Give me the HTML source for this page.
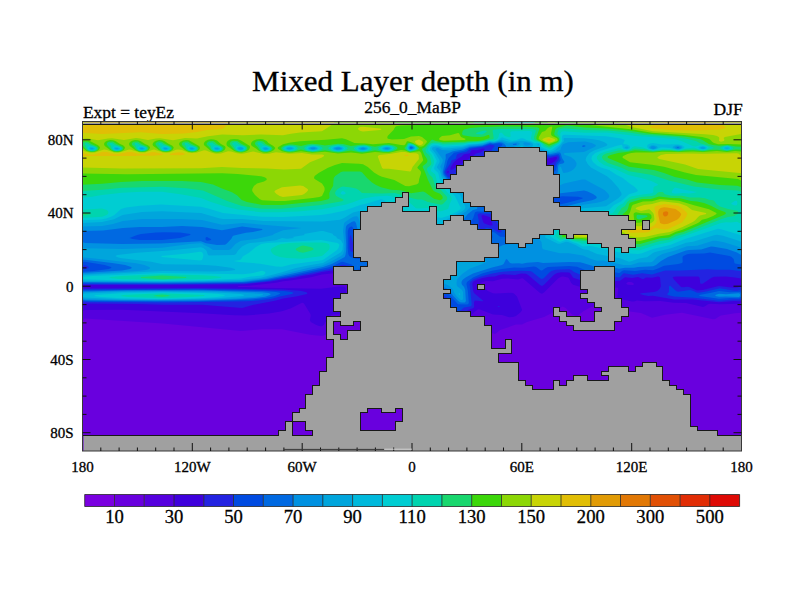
<!DOCTYPE html><html><head><meta charset="utf-8"><title>Mixed Layer depth</title><style>html,body{margin:0;padding:0;background:#fff}body{width:800px;height:600px;position:relative;overflow:hidden}</style></head><body><svg width="800" height="600" viewBox="0 0 800 600" style="position:absolute;left:0;top:0">
<text transform="translate(413,91) scale(1,0.95)" text-anchor="middle" style="font-family:'Liberation Serif',serif;fill:#000;stroke:#000;stroke-width:0.3px;font-size:31px">Mixed Layer depth (in m)</text>
<text x="83" y="117.8" style="font-family:'Liberation Serif',serif;fill:#000;stroke:#000;stroke-width:0.3px;font-size:17.4px">Expt = teyEz</text>
<text x="412.6" y="112.5" text-anchor="middle" style="font-family:'Liberation Serif',serif;fill:#000;stroke:#000;stroke-width:0.3px;font-size:17.4px">256_0_MaBP</text>
<text x="742.7" y="114.8" text-anchor="end" style="font-family:'Liberation Serif',serif;fill:#000;stroke:#000;stroke-width:0.3px;font-size:17.5px">DJF</text>
<defs><clipPath id="mc"><rect x="82.5" y="121.5" width="659.0" height="329.5"/></clipPath></defs>
<g clip-path="url(#mc)">
<g filter="none">
<rect x="80" y="119" width="665" height="335" fill="#6900de"/>
<path fill="#5500de" d="M80,119 744,119 744,310.9 741,312.7 735,313.2 721,315.6 719,316.4 715.3,319 713,319.3 682,312.7 665,314.8 652,317.7 641,312.9 617,309.8 612,309.7 603,310.7 599,308.4 593,306.8 591,307.1 583.7,311 578,315.5 576,315.8 572,314.6 565.7,308 563,306.7 562,306.8 558,309.9 544,317 527,322 522,324.5 516,324.6 500,330 496,333.6 495,333.9 491,332.8 489.7,333 479,339.3 460,339.6 457,340 453,342.7 445,349.8 443,350.8 440,348.8 411,348.6 408,348 373.3,320 370,318.7 358,316.2 356.4,314 354,307.8 353,307.7 352.3,319 351,320.8 345,323.5 338,321.4 335,321.8 329.1,329 328.4,331 328.5,333 325.2,335 322,335.9 310,334.7 282,329.2 262,329.3 241,330.9 163,323.6 85,318.6 84,319 82,323 82.8,327 82.3,330 81,331.7 80,331.4Z"/>
<path fill="#3e00dc" d="M80,119 744,119 744,302.2 740,303.7 720,304.2 710,303.8 708,304.3 705,306.3 703,306.9 686,303.1 674,302.8 660.4,301 644,301.2 637,300.4 634,301.4 632,301.4 620,299.1 617.8,298 617.4,296 618.2,289 618,288 617,287.4 612.2,288 598,291.6 595,291.7 587,288.7 573,284.8 571.2,283 569,278.6 568,277.6 563,276.4 561,276.7 558,278.5 544,292.6 542,293.8 540,292.9 523,278.6 522,278.3 518,279.5 508,278.6 502,278.7 493,281.3 485.9,281 480.3,283 480.3,284 487.8,291 493,293.2 496,293.6 511,292.8 513,293.1 514.5,294 517,296.5 522.2,310 520.9,312 516,316.1 513,316.9 509,317.2 502,315.1 493,314.6 480,309.4 478,309.3 473.4,313 451,334.2 448,336.4 447,336.2 446.2,335 444,329.5 443,328.1 441,327.5 426,327.5 423.6,327 404.9,312 401.7,310 360,302.3 359,301.3 358,299 353.1,282 351,278.6 349.9,273 349,271.5 348,271.1 344,271 334,273.2 322,274.5 311,277.3 292,280.3 283,281.2 276,282.7 249,285.7 238.6,286 237.5,287 246,286.9 262,287.8 321,288.8 339,286.6 343,286.4 345,287 345.6,288 345.9,290 345.4,304 346.1,311 345.6,313 343,314.3 334,314.4 331.3,315 326.7,320 324,324.8 322,326.3 320,326.3 316.2,325 310.8,322 309.8,320 310.7,316 310.4,314 304.3,304 303.2,303 302,302.7 291,308.3 282,311.3 269,313.5 246,315.5 234,315.3 201,313.3 122,309.7 85,310.1 81,311.4 80,311.3ZM626.3,284 628,284.7 633,285 634.2,284 632,282.2 630,281.9 628,282.1 626.6,283Z"/>
<path fill="#2323e1" d="M80,119 744,119 744,278.1 741,278.5 735,277.4 726,276.5 714,276.8 711.1,278 703,283.6 701,284.1 700.2,283 699.6,278 699.1,277 698,276.5 676,276.4 672.9,277 673,278 674.4,280 681,286.9 683,287.3 687,286.8 689,287 697,290.5 702.6,290 719,286 735,287.9 738,287.5 740,286.5 741,286.6 743,288 744,287.9 744,300.2 742,300.1 740,301.2 734,301 719,302.3 693,299.5 674,299.6 653,295.8 648,295.9 643.3,295 640,294 641,293.3 654,292 657.2,291 660,288.4 660.9,286 660.1,278 659.6,277 658,276.5 652,277.8 646,277.4 643,279.2 638,277.1 632,277.9 625,277.2 620,280.8 616,281.1 599,285.4 596,285.7 592,284.6 581,280.2 574,278.1 573,277.6 570,273.1 569,272.5 561,272.3 557.1,273 554,274.8 544,284.7 542,285.9 540,285.1 528.1,275 526,273.8 521,273.4 515,275 503,274.2 499,275 495,276.6 489,276.7 482.7,278 476.1,280 473,281.8 472.3,284 473,290.3 474,293.1 483.5,301 482,301.3 475,300.5 474,302 474.1,307 473.5,308 468.2,310 454,323.4 452,324.8 451,324.9 449.7,323 446,313 445,311.4 444,310.8 436,310.2 426,302.8 418.1,301 362,291.3 361,290.7 360,289.1 356.1,277 352.8,276 350.8,269 349,267.8 343,267.1 332,270.4 322,272 312,274.5 302,276 295,277.7 282,279.4 271,281.6 244,284.3 168,285 83,284.9 82,286 81.9,287 82.4,288 84,288.6 198,288.1 282,289.5 300,290.8 305.8,292 307.4,293 306.9,294 296,296.6 283,298.5 276,300.6 252.5,305 242,307.9 202,304.8 163,304.8 136.9,304 84,303.6 82.1,304 81,305.3 80,304.8ZM484.9,149 483,148.4 477,150.2 472,150 470.8,151 470,153.2 464,154.2 461.1,157 459,158 454,162.1 451,166.4 450.2,169 451,170 453,169.3 473.1,156 476,153.4 481,152.2 484,150.3ZM557,157.5 556.5,157 555,156.9 550,158.3 547,158.4 545.5,159 535.4,171 531.1,177 532,177.2 534,176.1 550,163.9 554,162.1 556.8,159ZM448,170.8 446.9,172 448,173.4 448.9,172 448.7,171ZM481.4,216 483,221.6 484,223.2 490,225.5 492,225.6 492.5,225 491.4,220 489.7,217 484,215.2 482,215.3ZM497.7,307 498,306.1 500.5,307Z"/>
<path fill="#004be1" d="M80,119 744,119 744,271.5 730,269.7 717,269.8 708,269.3 680,270.5 665,270.6 652,274.4 642,273.3 633,274.7 624,273.3 623,273.8 620,277.1 619,277.4 613,276.6 597,280.4 594.4,280 588.6,278 574,271.9 571,269.7 569,269.3 556,269.8 552,270.7 549.9,272 544,277.9 542,279.1 540,278.2 532,271.7 530,270.9 521,270.8 505,271.5 499,272.2 491,273.7 481,276.4 474,279.1 471.2,281 470.3,282 469.6,284 471.7,304 471.3,306 470,306.6 464,307.4 455,314.9 454,314.8 453,313.3 447.8,299 446.3,297 445,296.2 433,293.5 364,281.6 362,280.5 359,272.9 358,272.5 355,273.8 354,273.6 352.5,269 351,267 349,265.9 343,264.8 341,265.1 336.5,267 330,269 291,277 282,278.2 268,280.9 247,283.2 197,284.1 84,283.9 80,284.3ZM457.7,154 456.8,155 456,158.2 455,159.2 452,159.9 451.1,161 450.6,163 445.4,171 445.2,172 445.8,174 448,176.5 450,177.3 452,175.2 472,162.6 474,162.2 475,163.2 488,202.2 490,207.2 491,208.2 491.6,205 491.6,151 492.3,149 494.7,146 493,145 490,144.8 484,146.7 472,148.4 470.1,149 466.3,152 460.5,153ZM558.4,156 557,155.3 550,156.8 544,155.9 540.9,157 500,206 499,208.3 500,208.1 507,203.1 551,168.6 554,166.8 555,165.7 556,163 558.6,160 559,158ZM477.9,214 477.6,215 478.9,221 478.4,225 479.6,228 481,229.6 483,229.9 486,228.1 488,227.9 493,229 498,232.2 500,232.5 501.6,232 501.3,230 495,219.5 493.1,215 492,214 480,213.3ZM350,235.5 349.6,239 349.7,249 350.5,251 352,251.9 353,251.4 353.5,250 353.2,244 351,235.4ZM82.9,267 83,268.3 84,269.3 88.7,268 88.8,267 86,265.6 84,265.3ZM667.3,294 668.9,292 669,286.4 670,285.4 676.1,291 678,291.8 690,290 693,290.8 697,292.7 699,292.8 706,291.6 720,288.2 733,290.6 737,290.8 740,290.1 742,291.6 744,291.2 744,298.7 742,298 740,299.4 733,299.5 719,300.7 694,297.7 674,296.6 667.6,295ZM80,301.4 80,289.3 81,289.1 84,289.6 197,289 245,289.7 284,290.9 291.8,292 293.6,293 292,294.1 281,296.3 271,299.1 258,300.6 247,301.3 167,302.5 90,302.1Z"/>
<path fill="#0069e1" d="M80,119 744,119 744,265 735,263.5 734.5,263 733.7,259 731.6,257 729.6,256 710,252.4 704,253.5 690,253.8 687,254.3 683.3,256 682.5,257 682.7,262 682,263 678.3,264 664,265.8 658,268.6 653,270.3 645,269.8 635,271 624,270.2 622,270.9 620,272.7 619,273 609,271.3 598,273.8 596,273.8 588,271.3 577,266.7 569,266 548,267.1 545.6,268 542,270.6 541,270.4 536.2,267 534,266.6 523,267.7 514,267.6 502,268.9 492,270.7 482,273.6 473,277.5 467,282 466.4,284 467.9,291 468.8,303 468,304.3 466,304.6 458,304.3 448,293.2 445,291.5 396.6,276 385,273 365,269.3 362,267.3 356,270.7 355,270.2 352,264.8 343,261.8 341,262.1 334,265.6 328,267.6 292,275.3 267,280 244,282.6 168,283.4 80,283 80,270.9 81,270.6 83,271.7 93.8,271 108.7,269 111.4,268 111,267 104.7,265 85,261.7 83,262 81,265 80,264.5ZM444.2,171 444.1,173 445,175 450,180.6 451,181.2 452,181.3 468,170.8 470,170.1 471.2,171 484.2,210 484.1,211 483,211.4 477,211.6 475,212.3 473.2,218 470.7,222 470,224 470.5,226 476,237 477.3,239 479,240.1 483,240.2 492,238.6 492.6,237 491.7,233 492,232.3 493,232 495,232.8 500,236.7 509,237 515,236.5 516,236 516.1,235 513.1,229 513,228 513.6,227 535.7,211 544.4,208 566.4,203 581.3,199 583.1,198 578,196.8 562,196.2 525.1,204 517,204.9 515,204.7 514.4,204 516,202 556,170.2 557,164.7 560,161.6 560.6,160 559.6,155 558.5,154 550,155.6 542,153.8 538.1,154 536.3,155 504,193.3 500,197.1 499,196.2 498.8,150 499.1,148 502.4,145 502.1,144 501,143.5 499,143.3 493,143.9 490,143.6 482,146.2 470,147.7 464,150.8 454,152.7 448.7,158 447.4,161 446.3,166ZM351,226.6 348.8,228 347.8,231 347.7,248 348.3,254 349.2,256 351,257.3 356,258.7 359,258.9 360,258.2 360.1,257 358.1,247 353.2,228 352,226.6ZM129.5,238 132.6,239 140,240 162,239.9 179.9,238 190.4,235 190.3,234 180,232.4 164,232.2 156,232.6 141,234.1 137.1,235ZM205.5,238 205.7,240 207,240.7 211.3,240 210.8,239 207,237.1 206,237.3ZM80,300 80,290.9 84,290.5 128,289.9 199,289.8 263,291.1 275.8,292 280.3,293 279.6,294 274.9,296 266,298.1 253,299.4 235,300.3 197,301.2 156,301.6 86,300.9ZM699.3,296 699.5,295 710,293.1 719,290.9 730,292.3 740,292.1 741,293.3 742,293.7 742.4,293 744,292.2 744,297.8 742.5,297 742,296.1 739,298.2 730,298.1 719,298.8Z"/>
<path fill="#0091e1" d="M80,119 744,119 744,255.5 742,255.4 737,252.5 727,249.1 714,246.7 711,246.6 701,249.5 689,250 686,250.6 668,257 661,261 656,265 653,266.2 638,267 634,267.8 625,267.7 619,268.7 606,265.8 597,267.3 583,262.9 580,262.3 569,262.1 543,263.1 538,261.9 527,262.7 522,263.7 519,263.3 512,263.5 510,263 507,259.3 506,259.3 503.6,264 502,265 492,267.5 473,273.6 466,277.3 463,279.5 461.8,281 461.4,283 462,284.7 464.1,287 465.2,290 465.9,301 465,302.4 462,302.6 460,302.2 458,300.8 453.3,296 449.9,291 447,288.5 389.5,269 384,266 377,257 370,256.5 365,253.4 364,252.3 362,246.8 356,223.3 355,221.6 354,221.3 352,221.7 346.9,225 345.9,227 345.5,232 346.2,244 346.1,251 345.5,255 344.7,257 331.8,264 323,267.1 266.8,279 242,281.9 157,282.7 80,282.1 80,273.1 122,270.4 130,269 131.8,268 131.2,267 125.1,265 112.2,263 85,259.7 83,259.8 81,260.9 80,260.8 80,241.6 81,241.5 85,243.1 122,243.9 161,243.4 201,241.3 206,243.3 217,245.1 225,244.8 226.3,244 231.2,239 232.8,236 234,235.4 246,232.8 253.1,232 262,230 262.5,229 242,226.6 222,230.3 202,227.1 182,226.1 162,227 140,227 123,228 103,230.5 80,231.1ZM445.6,155 445.8,158 442.8,172 443.6,175 450,182.8 453,185.3 454.7,185 465,178.5 467,178.3 469,182.4 477.4,208 477,209 473,210 467.8,214 463.1,220 461.6,223 462.5,226 473,247 474.3,249 476,250.1 482,250.6 491,249.2 498,247.6 503,245 527,241.9 530.8,241 561,208.7 563,207.1 581,202.4 592,200.2 595.3,199 596.6,198 596.7,197 595.9,196 593,194 587,191.2 584,190.5 552,194.3 538,195.2 534.3,195 533.9,194 535.7,192 557,174.8 557.8,172 558,167 558.6,165 560,164 563,163.5 564.5,162 562,158.1 560.9,154 560,152.6 558,152.6 550,154.3 542,151.9 536,151.6 533,152.1 531,153.8 511,177.6 507,181.6 506,181.6 505.5,179 506,146 504.5,144 502,142.4 500,142.2 493,143.2 490,142.8 482,145.4 470,146.7 463,149.4 453,151.2 449,153.1 446,154ZM512.9,145 515.8,145 517.2,144 516,143.5 513,144ZM585.8,146 584,145 581.8,146 582.8,147 584,147.1ZM409.8,148 411,149 412.9,148 412.5,147 411,146.6 410,147ZM676.6,148 679.1,148 678,147.1 677,147.4ZM358,265.4 358,266.3 357.2,266ZM80,298.6 80,292.4 81,292.5 83,291.5 127,290.6 203,290.6 262,292.2 268.5,293 270.7,294 270.1,295 265,296.8 255,298 236,299.2 198,300.4 157,300.8 117,300.6 85,299.9 83,299.6 81,298.3ZM744,292.9 744,297 743,296 742.9,294ZM715.3,295 719,293.8 726,294.3 739,293.3 740,294 740.2,295 740,296 739,296.9 726,296.4 719,296.7 715.6,296Z"/>
<path fill="#00a5dc" d="M80,119 744,119 744,243.8 743,244.3 741.4,247 740,247.3 724,242.2 716,240.8 713,240.8 697,245.7 687,246.3 676,250.3 662.4,254 657,256.9 653,261.2 651,262.2 639,262.6 631,265.1 623.5,265 603,260.6 597,260.7 591,258.9 583,255.6 569,253.3 560,253.3 543,249.2 542.2,248 541.5,242 539.3,239 539.3,238 541.6,235 564,210.4 583,204.8 597,202.8 602,201.6 607,199.4 609.2,197 609.3,196 608.4,194 604.5,190 585,179.6 582,179.5 564,183.5 560,185.3 555,185.5 553.3,185 553.6,184 558,179.7 559,178 559.5,175 559.5,168 560,166.6 561,167 563,172.4 564,173 568,172.3 571.2,171 574,168.9 576.2,166 576.6,163 574.7,160 571,157.1 565,154.9 564,154.2 564,153.6 565,152.9 584,152 594.4,147 595.8,146 595.8,145 591.8,143 585,141.5 568,142.3 563,144.2 561.3,147 560.3,150 555.1,152 550,153.1 540,149.9 533,149.5 529,149.8 527,151.2 515,165.2 513,166.4 512.3,165 512.5,148 513.6,147 518.9,145 519.6,144 519.5,143 517,142.2 508,143.4 503,141.5 501,141.2 494,142.6 490,142 483,144.4 470,145.7 462,148.3 454,149.3 450,150.4 442,150.1 438,148.1 437,148.1 435.5,149 435.8,150 442.5,159 442.8,160 442.6,162 440.5,166 440.4,167 441.4,169 441.7,173 442.8,176 452,187 455,189.4 457,189.1 462,186.2 463,186.1 464,187 470.4,205 470.5,207 466,211.4 458.3,216 455.8,218 453.6,221 453.2,222 453.6,224 471,258.7 472,259.6 474,260.2 486.5,261 485.9,262 482.4,264 470,268.5 462.1,274 457.1,279 456.5,283 456.9,286 462,289.9 463,292 463.1,299 462,300.2 460,299.5 456.4,296 454.4,293 452.7,289 449,285.8 446,284.2 431.5,279 426,276 404,244.9 402.3,243 398,242.7 382,244.5 380,243.5 372,235.8 370,235.3 365,235.3 364,234.9 362,230.8 358.5,218 358,216.9 357,216.2 354,216.6 351,217.9 345.1,222 344,223.6 343,231 344.6,246 344.2,251 343,254.2 341,256 330.2,262 322,265.6 310,267.6 264,278.4 242,281 161,282.1 85,281.7 80,281 80,274.8 83,274.2 138.1,271 146,270 149.4,269 150.1,268 149.2,267 144.4,265 136,263.3 95,258.5 84,257.5 80,258.2 80,246.3 81,246 83,247.9 85,248.2 123,248.9 162,247.7 189.7,244 200,243.2 202,243.6 204,245.1 209,247.2 213,250.1 228.8,250 231,249.1 235.4,244 241,240.7 256,238.9 267,236.6 273,235 273.9,234 283,230.2 301.7,228 243,223 222,224.8 202,220.1 181,219 142,219.1 123,221 113,224 102,226.1 80,226.5ZM523.3,144 524,145 526,145.7 530,145.1 530.7,144 529,142.9 525,142.3 523.4,143ZM409.1,148 409.5,149 411,149.5 412.9,149 413.9,148 413.5,147 411,145.9 410,146.2ZM650.6,148 652,148.8 654,148.9 655.7,148 655.7,147 654,146.3 652,146.3 650.7,147ZM674.8,147 674.8,148 677,149 679,148.9 680.7,148 680.5,147 679,146.3 677,146.2ZM310.9,148 311.1,149 312,149.3 315.1,149 315.2,148 314,147.6ZM335.5,148 335.5,149 337,149.5 340.6,149 340.6,148 339,147.5ZM361,149 363,149.4 365,149 364.7,148 363,147.7 361.3,148ZM385.3,148 385.2,149 388.4,149 388.4,148ZM81.3,295 82.5,293 85,292.3 122,291.3 162,291.1 203,291.3 230.5,292 262.6,294 263.1,295 259.7,296 251.2,297 232,298.4 202,299.5 158,300.1 121,299.9 85,299 82.5,298 81.3,296Z"/>
<path fill="#00b9dc" d="M80,119 744,119 744,242.4 742,242.2 738,240.4 723,235.8 717,234.8 715,234.9 693,241.8 686,242.7 671,248.2 655,251.9 652.9,253 647,257.3 639,258.4 632,261.1 629,261.7 620,258.2 597,254 588,250 583,249.2 575.5,245 568,241.9 566,241.7 560,243.8 558,243.7 546.1,238 544.9,237 545.8,235 564,214.6 566,213 583,208.2 606,206.3 618.5,198 621.5,195 621.4,193 618.5,188 611.4,180 607,176.3 591,167.5 587.7,164 585.6,160 586.4,157 589.5,153 594,150.6 606.3,146 607.3,145 607.1,144 604,142 599,140.3 593,139.2 584,138.3 564,138.1 563.5,139 564.1,141 562,142.9 560,145.7 555.1,150 553.4,151 550,151.9 539,148 531.9,147 533.2,145 532.9,144 531.9,143 529.7,142 524,141 520,140.8 510,142.1 502,139.7 494,142 489,141.6 483,143.6 469,144.9 462,147 450,148.3 443,148.5 439,146.8 436,146.5 433.3,147 432,147.9 432,149.3 435.2,153 439.5,160 439.6,162 436.9,167 437.3,168 439.9,171 441.6,177 455,192.5 457,193.8 460,194.5 465.4,207 464.8,209 463,210.8 447.4,219 445.1,221 444.8,222 453,239.7 455,246 455.3,257 453,270.8 452,272.6 450,269.5 443,251 429.4,231 427.6,229 423,228.7 396,232.5 393,232.4 391,231 377,217.1 375,216.7 364,216.9 363,216.1 360.9,212 359,211.1 353,212.6 344,218 340,219.8 323,221.6 263,220.9 242,219 223,219 219,218.2 201,213.1 162,211.2 142,212.1 124,214.8 122,215.3 114,219.3 102,222.1 80,223ZM537.8,144 537.5,145 538,145.5 539,145.3 539,144.3ZM408.5,148 409,149.2 411,150 414,149 414.8,148 414.4,147 413,146 411,145.4 409.3,146ZM649.1,147 649.3,148 650.5,149 653,149.5 655.8,149 657.4,148 657.7,147 656,145.7 653,145.2 651,145.5ZM672.5,147 673.1,148 677,149.4 680,149.2 682.2,148 682.2,147 681,146.1 678,145.3 675,145.5ZM309.3,148 309.4,149 313,150.1 316.8,149 316.9,148 315,147 313,146.8 311,147.1ZM333.9,148 333.9,149 337,150.2 340,150 342.1,149 342,147.9 339,146.8 336,146.9ZM390.3,148 388,147.1 386,147.1 383.4,148 383.4,149 386,150 388,149.9 390.2,149ZM624.8,147 624.8,148 626,148.6 627,148.7 628.4,148 628.3,147 627,146.5ZM700.2,148 701.8,149 703,149.1 704.1,149 705.4,148 704.5,147 703,146.7 701,147ZM90.4,148 90.4,149 91,149.3 93.5,149 93,147.9ZM115.2,148 115.3,149 116,149.3 118.6,149 118,147.9ZM140.2,148 140.2,149 141,149.3 143.6,149 143,147.8ZM163.9,148 163.9,149 165,149.4 167.3,149 167,147.9 165,147.7ZM190.2,148 190.2,149 191,149.4 193.6,149 193,147.8ZM215.1,148 215,149 217,149.6 218.8,149 218,147.8ZM238.2,148 238.4,149 240,149.8 242,149.6 243,149 242.9,148 241,147.2 239,147.5ZM263.7,148 263.6,149 265,149.7 266,149.8 267.8,149 267.4,148 266,147.6ZM287.1,148 287.1,149 289,149.6 292.4,149 292.5,148 291,147.4 289,147.4ZM359.3,149 361,149.9 363,150.1 365,149.9 366.7,149 366.5,148 363,147 359.4,148ZM725.8,148 727,148.4 728.1,148ZM522,145.6 523.7,147 523.4,148 521,150.4 519.8,151 519,150.2 519,148 521,145.8ZM343,244 342.5,250 341,252.3 323,262.9 308,265.4 295,268.3 282,272.3 261,277.8 240,280.1 203,281.2 162,281.5 85,280.8 82.3,280 81.1,278 82.1,276 83,275.4 85,275 163,271.1 212,271.5 228.2,271 235.2,270 234.8,269 231,267.7 216,265.7 201,264.8 163,264.2 151,261.8 120.2,258 116.9,257 115.4,256 117.4,255 137,252.8 169,250.6 201,247.2 203.2,248 205.8,250 206.6,251 208,255 209,255.5 234,255 236,254 237.7,251 242,246.4 246.8,244 250,243.1 276,240.2 282,238.1 287,238.7 294.3,238 292.5,237 304.8,235 303.8,234 321,231 323.1,231 332,233.5 332.8,234 333.1,235 336.8,237 336.6,238 341,240.3ZM80,278.6 80,277 80.6,278ZM82.7,296 83.3,294 85,293.5 122,292.1 162,291.7 216,292.5 240.7,294 244.5,295 243.1,296 220.9,298 202,298.8 162,299.5 122,299.2 84,297.5 83.2,297ZM459,293 460.2,294 460,295.2 458.7,294Z"/>
<path fill="#00cdd2" d="M80,119 744,119 744,240.6 743.3,240 742,236.3 741,235.3 722,229.4 718,228.8 685,239 670,244.9 653,248.9 642,253.3 638,253.9 622,253.1 591,245.9 583,246.5 577,243.5 573,242.3 568,240 565.3,240 560,242 558,241.3 550.9,237 550.2,236 550.5,235 556.2,228 567,216.3 582,212 609,210 614,205 621,201.5 629,194.3 636.4,192 637.7,191 637.6,190 634.8,187 629,183.1 622.8,178 616,174.4 609.1,170 601,167.4 597,165.5 593,162 591.4,159 592.1,156 595.3,153 601,150.7 618,145.4 622,144.8 622.9,148 624.1,149 627,149.5 628.9,149 630,148 630.2,147 629,145.4 627,144.5 623.4,144 623.4,143 624.9,140 621,138.6 606,136.2 565,134.7 563,134.9 562.2,136 561.7,139 562.1,141 560,144.1 552,149.7 550,150.4 547.9,150 541.2,147 540.6,144 539,143 537,142.8 535,143.4 531,141.2 526.6,140 523,138.3 521,138.2 516.6,140 512,140.7 502,137.3 498.3,140 495,141.2 489,141 483,142.8 476,143.7 469,144 463,145.6 444,146.9 437,145.2 434,145.2 431.6,146 429.9,148 429.9,150 433.4,154 436.9,161 434.4,167 434.1,169 438.2,173 440,180 454.9,196 460.8,208 459.5,210 456.3,212 447.6,216 442,217.7 440,217.8 434,216.8 408,220.5 405,220.5 402.6,219 384.9,201 383,199.7 381,199.3 367,203.5 361,204.7 344,210.7 331,213.5 321,215 283,216.9 262,216.8 223,213 209,208.7 201,206.8 161,204.6 140,205.7 126,207.6 121,209.1 114.4,215 110.4,217 106,218.5 101,219.5 80,220.3ZM647,146 647.7,148 649,149 653,150 656,149.5 661,147.6 663,147.5 670,148.1 676,149.8 679,149.9 682.3,149 684,148 684.5,147 682,145.2 678,144.2 662,144.4 653,143.1 650,143.4 648,144.5ZM408,148 409,150 411,150.4 414,149.5 415.6,148 415.2,147 414,146 412,145.1 410,144.9 408.6,146ZM88.8,148 89,149 91,150.1 93.1,150 94.8,149 94.7,148 92,146.9 90,147ZM113.8,148 113.9,149 116,150 118.2,150 119.9,149 119.7,148 117,146.9 115,147ZM138.8,148 138.9,149 141,150.1 143.2,150 144.9,149 144.7,148 142,146.9 140,147ZM162.5,148 162.7,149 165,150.1 167,150 168.6,149 168.5,148 166,146.9 164,146.9ZM188.8,148 188.9,149 191,150.1 193.4,150 194.9,149 194.7,148 192,146.9 190,147ZM213.7,148 214,149.2 216,150.2 218.9,150 220,149 219.8,148 217,146.8 215,147ZM237,148 237.2,149 238,149.7 240,150.4 242.9,150 244.1,149 244,148 243,147.2 241,146.5 238,146.8ZM262.3,148 262.4,149 263,149.6 265,150.4 267.9,150 269,149 268.7,148 266,146.8 263.6,147ZM285.6,148 285.7,149 287,149.8 290,150.3 293,149.6 294,149 294.1,148 292.5,147 290,146.6 287.2,147ZM307.8,148 308,149 309.6,150 313,150.5 316.6,150 318.2,149 318.4,148 316,146.6 313,146.2 310,146.7ZM332.4,148 332.5,149 334,150 338,150.7 342.1,150 343.5,149 343.6,148 342,146.8 338,146.2 334,146.9ZM357.8,149 360,150.3 363,150.7 366,150.3 368.1,149 368,148 366.4,147 363,146.5 359,147.2 357.9,148ZM381.9,149 384,150.2 388,150.4 391.6,149 391.7,148 390,146.9 386,146.5 383,147.3 382,148ZM698.6,148 700,149.1 703,149.6 705.9,149 706.9,148 706,146.8 703,146 700,146.5 698.9,147ZM724,148 724.8,149 727,149.4 729.1,149 729.8,148 728.4,147 727,146.8 725.4,147ZM339.4,245 338.5,248 337,250 324.4,259 322,260.3 292,264.2 282,266.7 276,266.4 260,263.7 239.2,262 233.5,261 240,260.1 241.2,259 243,256.3 249,252.8 255.9,247 261.3,244 267,243 321,239.9 337.3,243 339,244ZM203.3,255 203,257.3 202,260 200,260.4 161.8,257 161.3,256 187,253.5 200,251.8 202,252.3 203,253.7ZM265.6,273 263.7,275 262,275.6 251,276.6 241,278.5 204,280.3 162,280.9 122,280.5 85,279.3 83.7,279 83,278 84,276.7 92.5,276 161,272.9 243,274.2 252,273.3 262,270.7 265,271.7ZM94.2,296 95.4,295 121,293.2 162,292.4 203.7,293 218.8,294 225,295 224.2,296 216.7,297 204,297.9 162,298.9 121,298.2 101,297Z"/>
<path fill="#00d4af" d="M80,119 508.4,119 508.1,121 510,121.9 524,122.3 531,122 532,121.4 532,119 744,119 744,200.1 742.2,201 742,206.2 742.7,207 744,207.1 744,220.8 741,223.2 740,223.3 737,221.7 731,222.5 726,222.3 721,223 681,237.2 669,242.3 655,245.3 640,250.2 624,249.7 619,248.1 598,243 582,243.7 578,241.9 574,241.3 568,239 565,239 561,240.3 559.5,240 555.3,236 555.4,235 559,229.5 568,219.5 581,215.7 612,213.6 613.8,212 617.1,207 619.7,205 623,203.4 625.9,200 629,197.4 631,196.5 639,194.9 652,193.2 653.3,192 653.4,188 654,186.7 658.1,185 657.5,184 651.3,181 641.2,178 628,174.9 615.4,169 604,165 599.6,162 597,159 596.8,157 597.2,156 599.2,154 604,151.9 618,148.2 620,148.2 625,150.1 628,150.1 630.6,149 633,146.7 635,146.2 643,147.4 649.8,150 653,150.5 663,149 671,149.3 679,150.3 686,148.6 694,147.5 700,149.7 703,150.2 706,149.6 708.6,148 708.1,147 707,146.3 703,145.2 700,145.3 695,146.6 693,146.3 681.5,141 674.2,139 652.1,137 636,136.1 607,132.4 585,132.8 564,131.3 562,131.5 561,132.2 560.3,134 560.8,141 560,142.5 559,143.6 550,148.9 548,148.6 544,146.9 542.8,146 542.1,144 540.7,143 538,142 535,141.6 531.9,140 530.9,139 530.9,138 532.1,132 531,131.2 529,131 512,131.2 510.3,132 510.6,136 510.2,137 509,137.3 505,136 502,132.9 501,132.6 499.8,133 499.1,134 498.5,137 497.2,139 494,140.6 489,140.4 484,141.8 479,142.6 469,143.1 463,144.4 443,145.4 438,144 434,143.8 432,144.3 429,146.5 427.9,150 428.9,152 431.9,155 434.2,161 433.8,164 431.2,169 430.9,171 434.8,174 435.4,175 437.1,182 438,183.7 443,187.4 450.7,196 451.7,198 451.6,200 449.6,204 448.2,209 441,211.3 439,211.2 427,207.9 418,208.6 416,208.3 410,203 406,201 391,196.3 387,195.7 375,196.6 366.2,198 361,199.3 353,202.3 346,204.4 322,209.2 298,211.4 278,212.3 261,212.2 238,209.5 227,207 211,201.9 201,198 182,194.4 162,191.7 142,191.7 122,192.8 102,194.9 92,196.8 80,197.8ZM407.3,148 408.2,150 410,150.9 414.2,150 416,149 416.5,148 416,147 414,145.5 410,144.3 408.5,145ZM236,147 236.2,149 237.2,150 239,150.7 243,150.6 245.1,149 245.1,148 244.2,147 241,145.9 237,145.8ZM306.3,148 306.5,149 307.9,150 313,151 318.4,150 319.8,149 320,148 319,147 317,146.2 313,145.6 309,146.2 307.2,147ZM330.8,148 331,149 332.3,150 335,150.9 338,151.2 341,150.9 343.9,150 345.1,149 345.2,148 343,146.4 338,145.5 333,146.4ZM356.2,148 356.2,149 357.4,150 362,151.2 367,150.6 369.6,149 369.6,148 368.3,147 364,146 359,146.5ZM380.3,149 383,150.5 388,150.9 391.7,150 393,149 393.1,148 392.1,147 390,146.3 386,146 381.7,147 380.4,148ZM87.6,148 87.9,149 89,149.9 91,150.5 94,150.3 95.9,149 95.8,148 95,147.2 92,146.2 89,146.3 88,147ZM112.6,148 112.9,149 114,149.9 116,150.5 119,150.3 120.9,149 120.8,148 120,147.2 117,146.2 114,146.3 113,146.9ZM137.6,148 137.9,149 139,150 141,150.5 144,150.3 145.9,149 145.8,148 145,147.2 142,146.2 139,146.3 138,146.9ZM161.3,148 161.6,149 162.8,150 165,150.6 168,150.2 169.6,149 169.6,148 169,147.4 166,146.2 163,146.2 162,146.7ZM187.6,148 187.8,149 188.9,150 191,150.6 194,150.4 195.9,149 195.8,148 195,147.2 192,146.2 189,146.3 188,146.9ZM212.5,148 212.7,149 213.7,150 216,150.8 219,150.6 220.3,150 221.1,149 220.9,148 220,147.2 217,146.2 214,146.2 213,146.9ZM261.1,148 261.3,149 262.2,150 265,150.9 268,150.6 269.2,150 270,149 269.8,148 269,147.2 266,146.2 263,146.1 262,146.5ZM284.4,149 287,150.5 291,150.7 294.1,150 295.6,149 295.7,148 294.6,147 293,146.4 289,146.1 285.4,147 284.3,148ZM722.4,148 724,149.4 727,150 730,149.3 731.3,148 730,146.8 727,146.2 724,146.7ZM671.7,192 672.3,193 675,193.7 683,193.1 689,193.4 693.4,193 696.9,192 683,189.5 675,187.5 673,189.3ZM340.7,193 341,194.1 343,194.8 345.4,194 345.7,193 344.9,192 343,191.1 342,191.3ZM737,201.1 736,200.7 734.8,201 731.7,203 731.2,204 734,205.2 736,205.4 737,205 737.4,203ZM108.5,212 108,214 106.7,215 102,216.8 80,218.1 80,210 102,208.6 106.9,210ZM270.7,250 271.1,249 272.3,248 278.1,245 281.1,244 290.1,243 302,242.5 322,242.4 326.3,243 328.9,244 329.7,246 329.6,248 328.8,250 322,256.1 302,258.8 287,258.1 279.8,257 275,255.3 272.9,254 271.4,252ZM108.9,278 111,277 121.4,276 162,274.2 202,275.3 214.4,276 221.8,277 219.8,278 209.6,279 163,280.1 122,279.2ZM120,296 123,295 162,293.3 204.1,295 204.6,296 191.1,297 162,298.2 128.3,297Z"/>
<path fill="#19d76e" d="M80,119 494,119.1 494.3,120 496.8,122 499,122.7 525,123.5 533,123.2 533.8,122 533.4,119 744,119 744,190.5 741,191.7 738,190.5 719,189.4 694,186.6 669,180.4 651,174.8 629,171.2 621,167.6 608,163 603.6,160 602.1,158 601.9,157 603.2,155 606,153.4 619,150.3 628,150.8 635,148.4 644,149.3 653,151 663,149.9 671,150 679,150.8 686,149.6 696,149.4 702,150.6 706,150.3 714.2,148 712.5,147 700,143.2 696,141 687.8,139 675.4,137 643,134.7 629,132.5 608,130.4 585,130 564,128.3 560,129.1 558.7,130 557.7,132 557.3,134 559,136 559.8,138 559.7,141 559,142.3 551,146.8 549,147.4 545.4,146 542.3,143 535,140 534.1,139 534,137 535.9,131 535.6,130 532,129.1 501,129 494,129.6 493,130 492.6,131 493.6,137 493.4,139 479,141.8 469,142.2 464,143.1 443,143.8 439,142.8 434,142.4 431,143.2 428,145.5 425.4,150 426,152.4 429,155 430,156.4 431.4,163 430.9,165 427.2,168 427,170 429,174.3 432,176.9 432.6,178 435.6,187 436.7,188 441,190 447.1,197 447.2,199 446.7,200 443,204 441,204.8 428,202.1 422,199.4 418,199.6 413,198.6 395,193.1 382,193.4 362,193 358.7,190 356,188.6 351,187.5 343,186.4 341,187.1 337.8,189 335.9,191 335,193 335.6,195 336.5,196 339,197.6 342.5,199 343.7,200 342,201.3 321,205.1 281,208.8 262,208.8 242,205.9 227.2,201 203,190.4 186,188.3 162,186.8 122,187.8 102,189.8 80,191.1ZM487,131 485,130.6 482.2,131 476,133 476.6,134 482,134.5 485,133ZM232.4,143 232.1,144 234,146.5 235.1,149 237,150.6 239,151.2 242,151.3 245,150.3 246.1,149 246.2,148 245,146.6 239,144.2 237,142.6 234.9,142ZM109.4,144 110.9,146 111.8,149 114,150.5 116,151 119,150.8 121.1,150 121.9,149 121.9,148 121,146.9 115.2,145 112,143 110.3,143ZM134.4,144 135.9,146 136.8,149 139,150.5 141,151 144,150.8 146,150 146.9,149 146.9,148 146,146.9 140.2,145 137,143 135.3,143ZM158.1,144 159.7,146 160.5,149 163,150.6 166,151.1 168,150.8 169.8,150 170.7,149 170.7,148 169,146.5 164,145 161,143.1 159,143ZM184.4,144 185.9,146 186.7,149 189,150.6 191,151.1 194,151 196.2,150 197,149 196.9,148 196,146.9 190.3,145 187.1,143 185.2,143ZM209.5,143 209.1,144 210.8,146 211.6,149 214,150.8 216,151.3 219,151.1 221,150.3 222.1,149 222,148 220,146.3 215.5,145 212,142.6ZM257.6,143 257.5,144 259.4,146 260.2,149 262,150.6 264,151.3 267,151.4 270,150.3 271.1,149 271,148 270,146.9 264.3,145 261,142.4 259,142.2ZM84.7,144 86,146 86.9,149 89,150.6 91,151 94,150.8 96,150 96.9,149 96.9,148 95,146.4 90.1,145 87,143.2 86,143ZM406.4,148 407.4,150 410,151.3 415.7,150 417.2,149 417.5,148 415,145.5 413,144.4 410,143.6 408,144.3ZM304.2,148 304.6,149 307,150.4 313,151.5 319,150.6 322.2,149 322.6,148 321.6,147 319,145.8 313,144.9 308,145.6 305,147ZM328.2,148 328.6,149 332,150.7 338,151.8 342,151.4 345,150.4 347.4,149 347.7,148 346.6,147 343,145.5 338,144.8 332,145.8 329.2,147ZM283,148 283,149 285,150.5 290,151.3 293,151 296,150 297.5,149 297.8,148 296.9,147 295,146.1 290,145.4 285,146.3ZM353.9,148 354,149 355.3,150 359,151.4 362,151.8 368,151 370.5,150 371.7,149 371.7,148 370.4,147 367,145.8 364,145.4 358,146 355.2,147ZM378.2,149 379.5,150 382.2,151 388,151.5 393.3,150 394.6,149 394.8,148 393.9,147 391.8,146 386,145.3 383,145.7 379.5,147 378.3,148ZM719.3,148 723.5,150 727,150.5 731,149.7 732.6,149 733.5,148 731,146.4 727,145.6 723,146.2ZM738.3,212 737.7,214 734.3,216 728,216.9 721,219.2 684,234 677,235.8 669,239.8 660,240.9 640,247.1 629,247 626,246.6 620,244.1 604,240.4 589,241.6 574,240.1 568,238.2 561,238.7 560,238 559,236 560.7,232 568,223.8 570,222.2 580,219.4 612,217.8 615,217.3 616.4,216 621.6,208 625,206.1 627.2,202 630,199.7 641,197 652,196.1 655.3,195 658,192.5 660,191.9 662.7,192 665,194.3 671,195.7 682,195.8 690,197.5 699,197.4 705,198.3 709,199.7 713,200.2 714.3,201 716.5,204 720,206.4 728,209 737.7,211ZM744,209.6 744,215.5 742.7,215 742.2,212 742.7,210ZM80,216 80,212.7 87.8,213 91.7,214ZM295.8,250 295.8,249 297,248 301,245.9 303,245.5 310.4,247 312.8,248 313.7,249 312.8,250 310.1,251 303,252.7 299.1,252ZM140.8,278 141.3,277 162,275.5 186.6,277 185.8,278 163,279.2ZM153.2,296 156.8,295 162,294.6 167.7,295 170.7,296 162,297.1Z"/>
<path fill="#3cd70a" d="M80,184.8 80,119 472.1,119 472.5,122 474.6,123 485,123.1 509,124.7 524,124.9 534,124.5 535.1,123 534.7,119 744,119 744,146.7 736,146.5 728,145 719,145.8 713,145.1 708.9,144 702.4,140 700,139 685,136.6 649,133.8 628,130.5 607,128.6 585,127.6 567,125.6 558,127.5 555.5,129 554.2,134 555,135.5 558.7,138 559,140 558.7,141 557,142.4 549,145.8 537.4,140 536.4,139 536.4,137 539.4,129 538.8,128 537,127.3 519,126.5 500,126.5 479,127.2 470.1,128 464,129.5 462.6,131 462,134 463,135.2 472,136.7 480,137 484,136.6 488,134.9 489,135.1 489.5,136 489.6,138 483.8,140 477.9,141 468,141.2 464,141.8 443,142.3 435.8,141 432,139.5 425,146.9 421.8,149 424.4,155 427,158.9 427.5,161 426.6,163 422.9,166 422.6,167 424.6,171 428,179.9 433,190.3 435,191.8 440,193.8 442.3,196 442.8,198 442,199.2 440,200.2 434,198.8 425,192.2 423,191.4 411,193.2 401,190.3 391,189.7 381,187.3 376,185 372,182.4 367,177.9 362,172.2 360,171.6 343,171.4 341,172 335.2,176 333.7,178 333.1,186 330.6,190 329.3,193 329.5,198 328,199.3 321,201.1 282,205 262,204.9 246.9,202 241.8,200 237,195.3 232,192.3 222,188.6 213,184.6 201,181.9 182,181 142,181 121,181.9 102,183.7ZM206.7,143 206.6,144 207,145 209.2,147 211.2,150 214,151.5 217,151.9 220,151.5 222,150.6 223.4,149 223.3,148 222,146.4 216.9,144 214.9,142 213,141.1 209,141.2ZM229.8,143 230.2,145 234.6,150 237,151.3 240,151.9 243,151.7 246,150.6 247.4,149 247.1,147 246,146 241.7,144 237.4,141 233,140.8 231,141.6ZM254.9,143 255.4,145 257.6,147 259.7,150 262,151.4 265,152 268,151.8 271,150.7 272.5,149 272.4,148 271,146.5 265.7,144 264,142 262,140.9 258,140.8 256,141.7ZM82.2,143 81.9,144 82.2,145 86.6,150 88.5,151 91,151.5 94,151.4 97,150.2 98,149 98.1,148 97,146.5 91.4,144 88,141.7 85,141.5 83.5,142ZM107,143 106.7,144 107.1,145 111.6,150 113.7,151 116,151.5 119,151.3 122,150.2 123.1,149 123.2,148 122,146.5 116.5,144 113,141.6 110,141.4 108.1,142ZM132,143 131.7,144 132.1,145 134.2,147 135.5,149 138,150.7 141,151.5 144,151.3 147,150.2 148.1,149 148.2,148 147,146.5 141.5,144 138,141.6 135,141.4 133.1,142ZM155.8,143 155.5,144 155.8,145 160.3,150 162,150.9 165,151.5 168,151.3 171,150 171.8,149 171.9,148 171,146.7 165.3,144 162,141.7 160,141.3 158,141.6ZM182,143 181.7,144 182.1,145 186.5,150 188.3,151 191,151.6 194,151.5 197,150.4 198.2,149 198.2,148 197,146.5 191.6,144 188,141.6 185,141.4 183.1,142ZM404.4,148 404.9,149 407.7,151 410,151.8 416,150.6 419,149 418.9,148 416,145.5 413,143.8 409,142.7 407.9,143 406,146.3ZM281.2,148 281.3,149 283,150.5 286,151.5 289,151.9 294,151.4 301,149.6 308,151.5 312,152 317,151.8 325,150.2 335,152.2 339,152.5 351,150.4 359,152.2 363,152.5 367,152.1 375,150.2 383,151.9 389,151.9 392,151.4 395.5,150 397,149 397.6,148 396.8,147 394,145.6 389,144.6 384,144.7 375,146.7 364,144.6 360,144.8 351,146.1 343,144.1 338,143.7 325,145.4 318,144.2 312,143.8 308,144.3 301,145.9 293,144.6 289,144.6 284,145.7 281.9,147ZM744,186 741,186.9 737,185.8 720,184.9 697,182.5 687,179.6 674.9,177 664,172.9 654,170 629,166.8 608.1,158 607.5,157 608.2,156 610.7,155 618.1,153 628,151.7 635,150.2 653,151.7 662,150.8 671,150.8 678,151.4 686,150.5 693,150.3 703,151.2 711,150 717,149.8 727,151.1 736,149.5 741,149.7 744,149.3ZM726,213 725.4,214 723.8,215 683,232 676,233.8 669,237.4 660,238.3 640,243.9 633,244.1 629,243.6 625,242.5 621,240.1 611,237.8 605,237.9 588,240.1 580,239 575,239.1 570,237.6 562.7,237 561.9,236 562.8,234 570.3,226 572,225 578,223.3 614,221.6 617.7,221 619,219.9 623,214.1 627,210.5 628.2,208 629.1,204 630,202.8 632,201.9 642,199.1 651,198.9 659,196.6 671,197.9 680,198.2 691,201.1 697,201.5 704,202.9 711,205.7 718,209.4 724.9,212ZM636.4,217 637,218.8 639,219.4 647,217 647.6,216 646,215.3 638,214.7 636.8,215Z"/>
<path fill="#8cd705" d="M80,173.5 80,146.1 86.7,151 91,152.1 94,151.9 97,151 98.8,150 100,148 99.8,147 98,145.3 89,140.5 84,140.3 81.9,141 80,142.4 80,119 392.6,119 392.8,122 394,123.6 408.8,124 417.3,125 401,125.4 396,126.3 395.1,127 393.5,130 387.6,136 387.3,138 388,138.8 392,139.5 404,139.1 411,136.4 419,136 422,137 426.8,141 426.9,142 424,145.4 422,146.4 420,146.7 412,142.4 408,141.2 407,141.3 405,144.8 404,145.2 401,145.1 394,143.7 389,143.1 373,144.2 366,143.5 354.4,143 346,139.2 342,138.2 326,139.7 300,141.2 289,142.7 283,144.3 278.3,147 277.7,148 278.2,149 282,151.2 288,152.6 292,152.5 301,151.2 312,152.8 325,151.8 338,153.6 351,152.6 362,153.8 375,152.1 384,152.8 389,152.7 401,150.1 405,150.6 410,152.4 419,151.3 420,151.6 421.2,153 423.2,160 422.8,161 417.6,167 417.4,168 420.6,171 421.1,173 419.2,179 418.6,183 417,184.3 409,186.2 405.3,186 394.3,180 382,176.8 379,175.5 374,172.6 367.8,167 363,164.3 359,163.7 342,163.1 335,165 328,167.7 319,172.7 314.6,176 314,178 314.7,179 322,183.4 324.3,187 324.7,189 324.4,191 322,196 319.4,197 312.8,198 285,200.9 276,201 262,200.2 259.5,199 255,195 252.2,191 252.3,189 253.9,186 257,183.6 264,181.4 266.5,180 266.8,179 266,178 264,176.9 261,176.2 237.7,174 222,173.3 127,174.3ZM226.5,143 226.6,145 227.2,146 234.2,151 238,152.3 242,152.6 246,151.6 248.6,150 249.9,148 249.8,146 241,140.4 238,139.3 234,138.9 230,139.6 227.6,141ZM251.1,143 251.1,145 252,146 256,148.4 259.1,151 263,152.5 267,152.7 271,151.8 274,150 275.3,148 273.4,146 268.4,143 266.7,141 263,139.3 260,139 256,139.5 252.7,141ZM128.9,144 129.8,146 135.1,150 139,151.7 143,151.9 146,151.4 148.7,150 150,148 149.9,147 148,145.3 145,144 140.5,141 138,140.2 135,140 132,140.8 130,142ZM178.9,144 179.9,146 184.9,150 189,151.9 192,152.3 196,151.7 198,150.8 199.8,149 199.8,147 199,146 189,140.3 186,139.9 183,140.4 180,142ZM203.9,143 203.9,145 210.9,151 214,152.2 218,152.6 222,151.7 224.6,150 225.5,148 225.5,147 224.7,146 220.9,144 217,140.5 214,139.4 211,139.2 208,139.7 205.5,141ZM103.9,144 104.8,146 110.1,150 114,151.7 118,152 121,151.4 123.8,150 125,148 124.8,147 123,145.3 120,144 115.5,141 113,140.2 110,140.1 107,140.8 105,142ZM152.6,144 152.7,145 153.4,146 158.8,150 163,151.8 166,152 170,151.4 172.5,150 173.7,148 173.5,147 172,145.5 168,143.6 164.3,141 162,140.2 159,140 156,140.7 153.8,142ZM546.9,119 555.2,119 555.7,122 555,122.9 554,123.2 548,122.9 547.1,122ZM576.2,119 744,119 744,144.7 728,144 718,144.2 713.9,143 712.3,142 710,139.5 708,138.4 702,137 684,134.9 652,132.8 631,129.2 583,124.2 578,123 576.6,122ZM552,126.6 552.3,127 551.1,133 551.2,135 552.1,136 557,138.3 557.8,140 557.2,141 549,144.3 541.6,141 538.6,139 539,136.7 542,132 545.1,131 547.9,128 549.5,127ZM465.8,139 464.6,140 444,140.7 439.9,140 438.9,139 440,137.4 442,136.1 450,135.3 458,133 459,133.2 461,137ZM744,179.1 741,180.5 738,179.1 696,174.9 685,172.5 664,166.8 652,164.7 630,162.2 622.9,158 622.4,157 623.2,156 627.4,154 631.3,153 636,152.6 653,152.6 662,151.8 679,152 693,151.4 703,151.9 717,151.1 727,151.9 735,151 741,151.4 744,150.9ZM716.4,213 716.5,214 713.1,216 707,218.4 702,219.7 699.5,222 697,223.4 681.9,230 676,231.8 669,235 658,236.5 640,241 635,241.1 628,239.7 626,239 623,236.6 617,235.1 611,235.3 587,238.6 582,237.9 575,237.9 567.3,236 566.4,235 572,228.7 578,226.8 585,227 620,224.9 621.5,224 627,217.3 630.1,212 631.9,206 633,204.8 643,201.6 652,201.3 660,198.9 679,200.7 694,205.3 709,209.2ZM633.6,214 634.2,221 635,222.3 636,222.7 639,222.8 647,221 650,219.8 651.6,218 651.3,215 649,213.2 641,213.3 636,212.2 634.1,213Z"/>
<path fill="#c8d405" d="M80,139.2 80,119 334.5,119 334.4,122 333.2,124 322,131.3 300,132.6 291,133.7 283,135.3 261,134.5 243,135.3 222,134.4 208,136.3 197,138.4 185,138 173,140.2 160,138.2 156,138.5 148,140 140,138.4 136,138.1 124,140.1 112,138.2 108,138.4 98,140.2 87,138.3ZM618.5,119 744,119 744,133.9 741,133.9 724.9,137 723.6,138 724.5,140 723.8,141 721,141.8 719,141 719.3,138 718.8,137 716.9,136 713,135.1 705,134.3 653,131.3 631.6,127 620.1,123 618.6,121ZM358,129 358.4,128 360,127.1 363,126.7 380,128.4 381.5,129 381,129.8 380,130.1 363,131.4 360.5,131 358.7,130ZM542.4,139 546,137.4 549,136.9 554.6,139 555.3,140 554.3,141 552.1,142 549,142.8 544.1,141 542.7,140ZM414.9,142 415.2,141 416,140.4 419,139.5 422,141 423.1,142 423.2,143 422.5,144 421,144.9 419,145.1 416.7,144ZM80,167.5 80,149.2 86,151.8 91,152.8 95,152.5 104,149.5 107,150 114,152.4 118,152.7 122,151.8 129,149.4 131,149.7 140,152.6 145,152.4 152,149.9 154,149.6 163,152.5 167,152.8 170,152.2 176,149.7 178,149.4 182,150.1 188,152.5 192,153.1 197,152.5 204,150.2 206,150.5 211,152.6 216,153.7 221,153.4 228,151.2 231,151.6 237,153.3 241,153.7 244,153.5 253,151.4 264,153.9 269,153.7 276,152.3 289,153.8 302,153 312,154.4 322,154.6 323.8,155 324.1,156 322,157.5 310,162.2 301,168.7 284,169.6 267,168.5 242,168.1 222,167.1 201,168.2 122,168.5ZM418.7,155 418.9,159 412.5,167 411,171 410,171.5 389,168.8 383,168.8 382,167.7 377.9,157 377.9,156 379.4,155 391,153.7 401,151.9 405,152 409,153.1 416,153.2 418,153.9ZM657.6,157 660.9,155 666,154 686,153.4 703,153.7 737,153.3 739,153.8 741,156.7 742.7,154 744,153.3 744,173.4 698,168.9 685,164.5 659.2,159 657.5,158ZM308.2,190 306.7,192 304.1,194 302,195 283,196.9 279.6,196 276.5,194 274.5,192 274.7,191 276,190 282,187.3 300,185.4 303.2,186 307.6,189ZM706.4,214 700,215.6 698.1,217 695,220.6 692.8,222 682.6,227 670,232.1 659,233.7 645,236.9 637,237.6 628,235.9 624,232.6 621,232.1 587,237 575,236.6 571.1,235 571.3,234 573.1,232 577,230.5 585,230.8 623,228.6 625,226.9 630,219.9 631,220.5 632.3,225 634,226 639,226.2 648,224.5 652,222.6 654,220.7 654.4,219 654,215.3 653.2,213 650,209.7 649,209.2 641,210.9 635.8,209 635.8,208 637.6,207 644,205.1 652,204 661,201.6 664,201.4 679,203.3 686.7,206 692,209.9 705.8,213Z"/>
<path fill="#e1be05" d="M80,132.5 80,126.5 83,126.1 87.7,124 88.9,122 89,119 230.8,119 230.7,122 230,123.7 227.1,125 223.7,128 222,128.9 207,130.1 196.9,132 184,133.4 162,133.9 141,132.2 102,134.1ZM649.9,127 650.6,126 652,125.4 663,123.7 663.8,123 664,119 708.5,119 708.7,121 709.5,122 712,123 721,124.5 724.5,126 725.7,127 725,128.2 720,129.6 696,130.5 673,130.3 651.3,128ZM546.6,140 547.6,139 549,138.7 550.3,139 551.4,140 550.3,141 549,141.3 547.7,141ZM80,152.5 91,154.7 94,154.4 103,151.8 107.1,152 113,153.7 117,154.3 128,151.9 131.9,152 138,153.7 142,154.1 146,153.8 151,152.3 154,152 162.5,154 162.7,155 152,155.7 142,155.5 134,155.9 80,155.9ZM169.4,155 170.3,154 173.2,153 178,152.3 182,152.5 183.8,153 185,154 184,154.8 181,155.3ZM404.1,155 406,154.7 408.3,155 408.4,156 405.3,156ZM687.4,214 686.1,217 682,222.6 668,229 664,229.5 656,227.9 654,228.5 648.7,232 646,232.6 631,232.7 629,232.3 627.8,231 628,229.4 629,228.5 632,229.2 645,229.1 648,228.4 654,225.6 656,223.2 656.9,220 654.5,208 654.9,207 656,206.1 658,205.4 665,204 678,205.8 681.8,208 686.2,212Z"/>
<path fill="#e19b05" d="M658.1,212 659,209.4 660.7,208 664,207.3 667,207.4 675.4,209 679.6,212 681.1,214 681,215 679.1,218 677,219.8 668,223.7 664,224.2 661,223.5 660,222.4 658.3,215Z"/>
<path fill="#e17805" d="M663.5,212 666,211.3 668.1,212 668.2,214 667,216.1 665,216.6 663.8,216 662.8,214Z"/>
</g>
<path fill="#a0a0a0" d="M83.5,122.5H742.5V124.6H83.5ZM498.5,147.5H539.5V151.6H498.5ZM484.5,151.5H546.5V156.6H484.5ZM470.5,156.5H546.5V160.6H470.5ZM463.5,160.5H546.5V165.6H463.5ZM456.5,165.5H553.5V170.6H456.5ZM456.5,170.5H553.5V174.6H456.5ZM450.5,174.5H559.5V179.6H450.5ZM443.5,179.5H559.5V183.6H443.5ZM436.5,183.5H559.5V188.6H436.5ZM450.5,188.5H559.5V192.6H450.5ZM402.5,192.5H408.5V197.6H402.5ZM463.5,192.5H559.5V197.6H463.5ZM395.5,197.5H408.5V202.6H395.5ZM463.5,197.5H553.5V202.6H463.5ZM381.5,202.5H408.5V206.6H381.5ZM470.5,202.5H559.5V206.6H470.5ZM367.5,206.5H402.5V211.6H367.5ZM429.5,206.5H436.5V211.6H429.5ZM484.5,206.5H580.5V211.6H484.5ZM360.5,211.5H436.5V215.6H360.5ZM491.5,211.5H608.5V215.6H491.5ZM360.5,215.5H436.5V220.6H360.5ZM450.5,215.5H463.5V220.6H450.5ZM491.5,215.5H628.5V220.6H491.5ZM360.5,220.5H436.5V224.6H360.5ZM443.5,220.5H470.5V224.6H443.5ZM498.5,220.5H635.5V224.6H498.5ZM642.5,220.5H649.5V224.6H642.5ZM360.5,224.5H477.5V229.6H360.5ZM498.5,224.5H635.5V229.6H498.5ZM642.5,224.5H649.5V229.6H642.5ZM353.5,229.5H491.5V234.6H353.5ZM505.5,229.5H553.5V234.6H505.5ZM559.5,229.5H621.5V234.6H559.5ZM353.5,234.5H491.5V238.6H353.5ZM505.5,234.5H539.5V238.6H505.5ZM566.5,234.5H573.5V238.6H566.5ZM587.5,234.5H628.5V238.6H587.5ZM353.5,238.5H491.5V243.6H353.5ZM505.5,238.5H532.5V243.6H505.5ZM587.5,238.5H635.5V243.6H587.5ZM353.5,243.5H498.5V247.6H353.5ZM518.5,243.5H525.5V247.6H518.5ZM601.5,243.5H635.5V247.6H601.5ZM353.5,247.5H498.5V252.6H353.5ZM608.5,247.5H614.5V252.6H608.5ZM621.5,247.5H628.5V252.6H621.5ZM353.5,252.5H498.5V257.6H353.5ZM608.5,252.5H614.5V257.6H608.5ZM360.5,257.5H484.5V261.6H360.5ZM608.5,257.5H614.5V261.6H608.5ZM367.5,261.5H456.5V266.6H367.5ZM333.5,266.5H353.5V270.6H333.5ZM360.5,266.5H456.5V270.6H360.5ZM594.5,266.5H614.5V270.6H594.5ZM333.5,270.5H456.5V275.6H333.5ZM580.5,270.5H614.5V275.6H580.5ZM333.5,275.5H450.5V279.6H333.5ZM580.5,275.5H614.5V279.6H580.5ZM333.5,279.5H443.5V284.6H333.5ZM580.5,279.5H614.5V284.6H580.5ZM347.5,284.5H443.5V289.6H347.5ZM477.5,284.5H484.5V289.6H477.5ZM580.5,284.5H614.5V289.6H580.5ZM347.5,289.5H450.5V293.6H347.5ZM587.5,289.5H614.5V293.6H587.5ZM340.5,293.5H443.5V298.6H340.5ZM580.5,293.5H614.5V298.6H580.5ZM333.5,298.5H450.5V302.6H333.5ZM587.5,298.5H621.5V302.6H587.5ZM333.5,302.5H450.5V307.6H333.5ZM594.5,302.5H621.5V307.6H594.5ZM333.5,307.5H456.5V311.6H333.5ZM553.5,307.5H559.5V311.6H553.5ZM601.5,307.5H628.5V311.6H601.5ZM340.5,311.5H470.5V316.6H340.5ZM553.5,311.5H566.5V316.6H553.5ZM594.5,311.5H628.5V316.6H594.5ZM326.5,316.5H484.5V321.6H326.5ZM559.5,316.5H580.5V321.6H559.5ZM594.5,316.5H621.5V321.6H594.5ZM326.5,321.5H333.5V325.6H326.5ZM340.5,321.5H353.5V325.6H340.5ZM360.5,321.5H484.5V325.6H360.5ZM566.5,321.5H614.5V325.6H566.5ZM326.5,325.5H333.5V330.6H326.5ZM360.5,325.5H491.5V330.6H360.5ZM573.5,325.5H614.5V330.6H573.5ZM326.5,330.5H333.5V334.6H326.5ZM347.5,330.5H491.5V334.6H347.5ZM326.5,334.5H340.5V339.6H326.5ZM347.5,334.5H491.5V339.6H347.5ZM333.5,339.5H491.5V343.6H333.5ZM505.5,339.5H511.5V343.6H505.5ZM333.5,343.5H491.5V348.6H333.5ZM505.5,343.5H511.5V348.6H505.5ZM333.5,348.5H511.5V353.6H333.5ZM333.5,353.5H498.5V357.6H333.5ZM326.5,357.5H498.5V362.6H326.5ZM326.5,362.5H518.5V366.6H326.5ZM642.5,362.5H656.5V366.6H642.5ZM326.5,366.5H518.5V371.6H326.5ZM608.5,366.5H628.5V371.6H608.5ZM635.5,366.5H662.5V371.6H635.5ZM319.5,371.5H518.5V375.6H319.5ZM601.5,371.5H662.5V375.6H601.5ZM319.5,375.5H518.5V380.6H319.5ZM573.5,375.5H587.5V380.6H573.5ZM608.5,375.5H662.5V380.6H608.5ZM319.5,380.5H525.5V385.6H319.5ZM553.5,380.5H559.5V385.6H553.5ZM566.5,380.5H669.5V385.6H566.5ZM312.5,385.5H532.5V389.6H312.5ZM553.5,385.5H676.5V389.6H553.5ZM312.5,389.5H683.5V394.6H312.5ZM305.5,394.5H690.5V398.6H305.5ZM305.5,398.5H690.5V403.6H305.5ZM305.5,403.5H690.5V408.6H305.5ZM299.5,408.5H367.5V412.6H299.5ZM381.5,408.5H395.5V412.6H381.5ZM402.5,408.5H690.5V412.6H402.5ZM292.5,412.5H360.5V417.6H292.5ZM402.5,412.5H690.5V417.6H402.5ZM292.5,417.5H360.5V421.6H292.5ZM402.5,417.5H690.5V421.6H402.5ZM285.5,421.5H292.5V426.6H285.5ZM305.5,421.5H360.5V426.6H305.5ZM395.5,421.5H690.5V426.6H395.5ZM285.5,426.5H292.5V430.6H285.5ZM305.5,426.5H360.5V430.6H305.5ZM395.5,426.5H697.5V430.6H395.5ZM278.5,430.5H292.5V435.6H278.5ZM312.5,430.5H717.5V435.6H312.5ZM83.5,435.5H742.5V440.6H83.5ZM83.5,440.5H742.5V444.6H83.5ZM83.5,444.5H742.5V449.6H83.5ZM83.5,449.5H742.5V451.6H83.5Z"/>
<path fill="none" stroke="#181818" stroke-width="1" stroke-linecap="square" d="M83.5,124.5H742.5M498.5,147.5H539.5M484.5,151.5H498.5M539.5,151.5H546.5M470.5,156.5H484.5M463.5,160.5H470.5M456.5,165.5H463.5M546.5,165.5H553.5M450.5,174.5H456.5M553.5,174.5H559.5M443.5,179.5H450.5M436.5,183.5H443.5M436.5,188.5H450.5M402.5,192.5H408.5M450.5,192.5H463.5M395.5,197.5H402.5M553.5,197.5H559.5M381.5,202.5H395.5M463.5,202.5H470.5M553.5,202.5H559.5M367.5,206.5H381.5M402.5,206.5H408.5M429.5,206.5H436.5M470.5,206.5H484.5M559.5,206.5H580.5M360.5,211.5H367.5M402.5,211.5H429.5M484.5,211.5H491.5M580.5,211.5H608.5M450.5,215.5H463.5M608.5,215.5H628.5M443.5,220.5H450.5M463.5,220.5H470.5M491.5,220.5H498.5M628.5,220.5H635.5M642.5,220.5H649.5M436.5,224.5H443.5M470.5,224.5H477.5M353.5,229.5H360.5M477.5,229.5H491.5M498.5,229.5H505.5M553.5,229.5H559.5M621.5,229.5H635.5M642.5,229.5H649.5M539.5,234.5H553.5M559.5,234.5H566.5M573.5,234.5H587.5M621.5,234.5H628.5M532.5,238.5H539.5M566.5,238.5H573.5M628.5,238.5H635.5M491.5,243.5H498.5M505.5,243.5H518.5M525.5,243.5H532.5M587.5,243.5H601.5M518.5,247.5H525.5M601.5,247.5H608.5M614.5,247.5H621.5M628.5,247.5H635.5M621.5,252.5H628.5M353.5,257.5H360.5M484.5,257.5H498.5M360.5,261.5H367.5M456.5,261.5H484.5M608.5,261.5H614.5M333.5,266.5H353.5M360.5,266.5H367.5M594.5,266.5H614.5M353.5,270.5H360.5M580.5,270.5H594.5M450.5,275.5H456.5M443.5,279.5H450.5M333.5,284.5H347.5M477.5,284.5H484.5M443.5,289.5H450.5M477.5,289.5H484.5M580.5,289.5H587.5M340.5,293.5H347.5M443.5,293.5H450.5M580.5,293.5H587.5M333.5,298.5H340.5M443.5,298.5H450.5M580.5,298.5H587.5M614.5,298.5H621.5M587.5,302.5H594.5M450.5,307.5H456.5M553.5,307.5H559.5M594.5,307.5H601.5M621.5,307.5H628.5M333.5,311.5H340.5M456.5,311.5H470.5M559.5,311.5H566.5M594.5,311.5H601.5M326.5,316.5H340.5M470.5,316.5H484.5M553.5,316.5H559.5M566.5,316.5H580.5M621.5,316.5H628.5M333.5,321.5H340.5M353.5,321.5H360.5M559.5,321.5H566.5M580.5,321.5H594.5M614.5,321.5H621.5M340.5,325.5H353.5M484.5,325.5H491.5M566.5,325.5H573.5M347.5,330.5H360.5M573.5,330.5H614.5M333.5,334.5H340.5M326.5,339.5H333.5M340.5,339.5H347.5M505.5,339.5H511.5M491.5,348.5H505.5M498.5,353.5H511.5M326.5,357.5H333.5M498.5,362.5H518.5M642.5,362.5H656.5M608.5,366.5H628.5M635.5,366.5H642.5M656.5,366.5H662.5M319.5,371.5H326.5M601.5,371.5H608.5M628.5,371.5H635.5M573.5,375.5H587.5M601.5,375.5H608.5M518.5,380.5H525.5M553.5,380.5H559.5M566.5,380.5H573.5M587.5,380.5H608.5M662.5,380.5H669.5M312.5,385.5H319.5M525.5,385.5H532.5M559.5,385.5H566.5M669.5,385.5H676.5M532.5,389.5H553.5M676.5,389.5H683.5M305.5,394.5H312.5M683.5,394.5H690.5M299.5,408.5H305.5M367.5,408.5H381.5M395.5,408.5H402.5M292.5,412.5H299.5M360.5,412.5H367.5M381.5,412.5H395.5M285.5,421.5H305.5M395.5,421.5H402.5M690.5,426.5H697.5M278.5,430.5H285.5M305.5,430.5H312.5M360.5,430.5H395.5M697.5,430.5H717.5M83.5,435.5H278.5M292.5,435.5H312.5M717.5,435.5H742.5M278.5,430.5V435.5M285.5,421.5V430.5M292.5,412.5V435.5M299.5,408.5V412.5M305.5,394.5V408.5M305.5,421.5V430.5M312.5,385.5V394.5M312.5,430.5V435.5M319.5,371.5V385.5M326.5,316.5V339.5M326.5,357.5V371.5M333.5,266.5V284.5M333.5,298.5V311.5M333.5,321.5V334.5M333.5,339.5V357.5M340.5,293.5V298.5M340.5,311.5V316.5M340.5,321.5V325.5M340.5,334.5V339.5M347.5,284.5V293.5M347.5,330.5V339.5M353.5,229.5V257.5M353.5,266.5V270.5M353.5,321.5V325.5M360.5,211.5V229.5M360.5,257.5V261.5M360.5,266.5V270.5M360.5,321.5V330.5M360.5,412.5V430.5M367.5,206.5V211.5M367.5,261.5V266.5M367.5,408.5V412.5M381.5,202.5V206.5M381.5,408.5V412.5M395.5,197.5V202.5M395.5,408.5V412.5M395.5,421.5V430.5M402.5,192.5V197.5M402.5,206.5V211.5M402.5,408.5V421.5M408.5,192.5V206.5M429.5,206.5V211.5M436.5,183.5V188.5M436.5,206.5V224.5M443.5,179.5V183.5M443.5,220.5V224.5M443.5,279.5V289.5M443.5,293.5V298.5M450.5,174.5V179.5M450.5,188.5V192.5M450.5,215.5V220.5M450.5,275.5V279.5M450.5,289.5V293.5M450.5,298.5V307.5M456.5,165.5V174.5M456.5,261.5V275.5M456.5,307.5V311.5M463.5,160.5V165.5M463.5,192.5V202.5M463.5,215.5V220.5M470.5,156.5V160.5M470.5,202.5V206.5M470.5,220.5V224.5M470.5,311.5V316.5M477.5,224.5V229.5M477.5,284.5V289.5M484.5,151.5V156.5M484.5,206.5V211.5M484.5,257.5V261.5M484.5,284.5V289.5M484.5,316.5V325.5M491.5,211.5V220.5M491.5,229.5V243.5M491.5,325.5V348.5M498.5,147.5V151.5M498.5,220.5V229.5M498.5,243.5V257.5M498.5,353.5V362.5M505.5,229.5V243.5M505.5,339.5V348.5M511.5,339.5V353.5M518.5,243.5V247.5M518.5,362.5V380.5M525.5,243.5V247.5M525.5,380.5V385.5M532.5,238.5V243.5M532.5,385.5V389.5M539.5,147.5V151.5M539.5,234.5V238.5M546.5,151.5V165.5M553.5,165.5V174.5M553.5,197.5V202.5M553.5,229.5V234.5M553.5,307.5V316.5M553.5,380.5V389.5M559.5,174.5V197.5M559.5,202.5V206.5M559.5,229.5V234.5M559.5,307.5V311.5M559.5,316.5V321.5M559.5,380.5V385.5M566.5,234.5V238.5M566.5,311.5V316.5M566.5,321.5V325.5M566.5,380.5V385.5M573.5,234.5V238.5M573.5,325.5V330.5M573.5,375.5V380.5M580.5,206.5V211.5M580.5,270.5V289.5M580.5,293.5V298.5M580.5,316.5V321.5M587.5,234.5V243.5M587.5,289.5V293.5M587.5,298.5V302.5M587.5,375.5V380.5M594.5,266.5V270.5M594.5,302.5V307.5M594.5,311.5V321.5M601.5,243.5V247.5M601.5,307.5V311.5M601.5,371.5V375.5M608.5,211.5V215.5M608.5,247.5V261.5M608.5,366.5V371.5M608.5,375.5V380.5M614.5,247.5V261.5M614.5,266.5V298.5M614.5,321.5V330.5M621.5,229.5V234.5M621.5,247.5V252.5M621.5,298.5V307.5M621.5,316.5V321.5M628.5,215.5V220.5M628.5,234.5V238.5M628.5,247.5V252.5M628.5,307.5V316.5M628.5,366.5V371.5M635.5,220.5V229.5M635.5,238.5V247.5M635.5,366.5V371.5M642.5,220.5V229.5M642.5,362.5V366.5M649.5,220.5V229.5M656.5,362.5V366.5M662.5,366.5V380.5M669.5,380.5V385.5M676.5,385.5V389.5M683.5,389.5V394.5M690.5,394.5V426.5M697.5,426.5V430.5M717.5,430.5V435.5"/>
</g>
<rect x="82.5" y="121.5" width="659.0" height="329.5" fill="none" stroke="#383838" stroke-width="1"/>
<path stroke="#101010" stroke-width="1" fill="none" d="M100.8,451.0v-3.5M100.8,121.5v3.5M119.1,451.0v-3.5M119.1,121.5v3.5M137.4,451.0v-3.5M137.4,121.5v3.5M155.7,451.0v-3.5M155.7,121.5v3.5M174,451.0v-3.5M174,121.5v3.5M192.3,451.0v-8M192.3,121.5v8M210.6,451.0v-3.5M210.6,121.5v3.5M228.9,451.0v-3.5M228.9,121.5v3.5M247.2,451.0v-3.5M247.2,121.5v3.5M265.6,451.0v-3.5M265.6,121.5v3.5M283.9,451.0v-3.5M283.9,121.5v3.5M302.2,451.0v-8M302.2,121.5v8M320.5,451.0v-3.5M320.5,121.5v3.5M338.8,451.0v-3.5M338.8,121.5v3.5M357.1,451.0v-3.5M357.1,121.5v3.5M375.4,451.0v-3.5M375.4,121.5v3.5M393.7,451.0v-3.5M393.7,121.5v3.5M412,451.0v-8M412,121.5v8M430.3,451.0v-3.5M430.3,121.5v3.5M448.6,451.0v-3.5M448.6,121.5v3.5M466.9,451.0v-3.5M466.9,121.5v3.5M485.2,451.0v-3.5M485.2,121.5v3.5M503.5,451.0v-3.5M503.5,121.5v3.5M521.8,451.0v-8M521.8,121.5v8M540.1,451.0v-3.5M540.1,121.5v3.5M558.4,451.0v-3.5M558.4,121.5v3.5M576.8,451.0v-3.5M576.8,121.5v3.5M595.1,451.0v-3.5M595.1,121.5v3.5M613.4,451.0v-3.5M613.4,121.5v3.5M631.7,451.0v-8M631.7,121.5v8M650,451.0v-3.5M650,121.5v3.5M668.3,451.0v-3.5M668.3,121.5v3.5M686.6,451.0v-3.5M686.6,121.5v3.5M704.9,451.0v-3.5M704.9,121.5v3.5M723.2,451.0v-3.5M723.2,121.5v3.5M82.5,432.7h8M741.5,432.7h-8M82.5,414.4h4M741.5,414.4h-4M82.5,396.1h4M741.5,396.1h-4M82.5,377.8h4M741.5,377.8h-4M82.5,359.5h8M741.5,359.5h-8M82.5,341.2h4M741.5,341.2h-4M82.5,322.9h4M741.5,322.9h-4M82.5,304.6h4M741.5,304.6h-4M82.5,286.2h8M741.5,286.2h-8M82.5,267.9h4M741.5,267.9h-4M82.5,249.6h4M741.5,249.6h-4M82.5,231.3h4M741.5,231.3h-4M82.5,213h8M741.5,213h-8M82.5,194.7h4M741.5,194.7h-4M82.5,176.4h4M741.5,176.4h-4M82.5,158.1h4M741.5,158.1h-4M82.5,139.8h8M741.5,139.8h-8"/>
<path d="M284,449.4H384" stroke="#383838" stroke-width="1" fill="none"/><path d="M384.5,449.2H412" stroke="#e0e0e0" stroke-width="0.8" fill="none"/>
<rect x="84.7" y="494.5" width="29.9" height="12.0" fill="#7a00e0"/>
<rect x="114.5" y="494.5" width="29.9" height="12.0" fill="#6900de"/>
<rect x="144.2" y="494.5" width="29.9" height="12.0" fill="#5500de"/>
<rect x="174" y="494.5" width="29.9" height="12.0" fill="#3e00dc"/>
<rect x="203.8" y="494.5" width="29.9" height="12.0" fill="#2323e1"/>
<rect x="233.5" y="494.5" width="29.9" height="12.0" fill="#004be1"/>
<rect x="263.3" y="494.5" width="29.9" height="12.0" fill="#0069e1"/>
<rect x="293.1" y="494.5" width="29.9" height="12.0" fill="#0091e1"/>
<rect x="322.8" y="494.5" width="29.9" height="12.0" fill="#00a5dc"/>
<rect x="352.6" y="494.5" width="29.9" height="12.0" fill="#00b9dc"/>
<rect x="382.4" y="494.5" width="29.9" height="12.0" fill="#00cdd2"/>
<rect x="412.1" y="494.5" width="29.9" height="12.0" fill="#00d4af"/>
<rect x="441.9" y="494.5" width="29.9" height="12.0" fill="#19d76e"/>
<rect x="471.7" y="494.5" width="29.9" height="12.0" fill="#3cd70a"/>
<rect x="501.5" y="494.5" width="29.9" height="12.0" fill="#8cd705"/>
<rect x="531.2" y="494.5" width="29.9" height="12.0" fill="#c8d405"/>
<rect x="561" y="494.5" width="29.9" height="12.0" fill="#e1be05"/>
<rect x="590.8" y="494.5" width="29.9" height="12.0" fill="#e19b05"/>
<rect x="620.5" y="494.5" width="29.9" height="12.0" fill="#e17805"/>
<rect x="650.3" y="494.5" width="29.9" height="12.0" fill="#e15005"/>
<rect x="680.1" y="494.5" width="29.9" height="12.0" fill="#e12d05"/>
<rect x="709.8" y="494.5" width="29.9" height="12.0" fill="#de0a05"/>
<path stroke="#282828" stroke-width="0.8" fill="none" d="M84.7,494.5V506.5M114.5,494.5V506.5M144.2,494.5V506.5M174,494.5V506.5M203.8,494.5V506.5M233.5,494.5V506.5M263.3,494.5V506.5M293.1,494.5V506.5M322.8,494.5V506.5M352.6,494.5V506.5M382.4,494.5V506.5M412.1,494.5V506.5M441.9,494.5V506.5M471.7,494.5V506.5M501.5,494.5V506.5M531.2,494.5V506.5M561,494.5V506.5M590.8,494.5V506.5M620.5,494.5V506.5M650.3,494.5V506.5M680.1,494.5V506.5M709.8,494.5V506.5M739.6,494.5V506.5 M84.7,494.5H739.6 M84.7,506.5H739.6"/>
<text x="73.5" y="145.1" text-anchor="end" style="font-family:'Liberation Serif',serif;fill:#000;stroke:#000;stroke-width:0.3px;font-size:15px">80N</text>
<text x="73.5" y="218.3" text-anchor="end" style="font-family:'Liberation Serif',serif;fill:#000;stroke:#000;stroke-width:0.3px;font-size:15px">40N</text>
<text x="73.5" y="291.6" text-anchor="end" style="font-family:'Liberation Serif',serif;fill:#000;stroke:#000;stroke-width:0.3px;font-size:15px">0</text>
<text x="73.5" y="364.8" text-anchor="end" style="font-family:'Liberation Serif',serif;fill:#000;stroke:#000;stroke-width:0.3px;font-size:15px">40S</text>
<text x="73.5" y="438" text-anchor="end" style="font-family:'Liberation Serif',serif;fill:#000;stroke:#000;stroke-width:0.3px;font-size:15px">80S</text>
<text x="82.5" y="471.5" text-anchor="middle" style="font-family:'Liberation Serif',serif;fill:#000;stroke:#000;stroke-width:0.3px;font-size:15px">180</text>
<text x="192.3" y="471.5" text-anchor="middle" style="font-family:'Liberation Serif',serif;fill:#000;stroke:#000;stroke-width:0.3px;font-size:15px">120W</text>
<text x="302.2" y="471.5" text-anchor="middle" style="font-family:'Liberation Serif',serif;fill:#000;stroke:#000;stroke-width:0.3px;font-size:15px">60W</text>
<text x="412" y="471.5" text-anchor="middle" style="font-family:'Liberation Serif',serif;fill:#000;stroke:#000;stroke-width:0.3px;font-size:15px">0</text>
<text x="521.8" y="471.5" text-anchor="middle" style="font-family:'Liberation Serif',serif;fill:#000;stroke:#000;stroke-width:0.3px;font-size:15px">60E</text>
<text x="631.7" y="471.5" text-anchor="middle" style="font-family:'Liberation Serif',serif;fill:#000;stroke:#000;stroke-width:0.3px;font-size:15px">120E</text>
<text x="741.5" y="471.5" text-anchor="middle" style="font-family:'Liberation Serif',serif;fill:#000;stroke:#000;stroke-width:0.3px;font-size:15px">180</text>
<text x="114.5" y="523" text-anchor="middle" style="font-family:'Liberation Serif',serif;fill:#000;stroke:#000;stroke-width:0.3px;font-size:18.6px">10</text>
<text x="174" y="523" text-anchor="middle" style="font-family:'Liberation Serif',serif;fill:#000;stroke:#000;stroke-width:0.3px;font-size:18.6px">30</text>
<text x="233.5" y="523" text-anchor="middle" style="font-family:'Liberation Serif',serif;fill:#000;stroke:#000;stroke-width:0.3px;font-size:18.6px">50</text>
<text x="293.1" y="523" text-anchor="middle" style="font-family:'Liberation Serif',serif;fill:#000;stroke:#000;stroke-width:0.3px;font-size:18.6px">70</text>
<text x="352.6" y="523" text-anchor="middle" style="font-family:'Liberation Serif',serif;fill:#000;stroke:#000;stroke-width:0.3px;font-size:18.6px">90</text>
<text x="412.1" y="523" text-anchor="middle" style="font-family:'Liberation Serif',serif;fill:#000;stroke:#000;stroke-width:0.3px;font-size:18.6px">110</text>
<text x="471.7" y="523" text-anchor="middle" style="font-family:'Liberation Serif',serif;fill:#000;stroke:#000;stroke-width:0.3px;font-size:18.6px">130</text>
<text x="531.2" y="523" text-anchor="middle" style="font-family:'Liberation Serif',serif;fill:#000;stroke:#000;stroke-width:0.3px;font-size:18.6px">150</text>
<text x="590.8" y="523" text-anchor="middle" style="font-family:'Liberation Serif',serif;fill:#000;stroke:#000;stroke-width:0.3px;font-size:18.6px">200</text>
<text x="650.3" y="523" text-anchor="middle" style="font-family:'Liberation Serif',serif;fill:#000;stroke:#000;stroke-width:0.3px;font-size:18.6px">300</text>
<text x="709.8" y="523" text-anchor="middle" style="font-family:'Liberation Serif',serif;fill:#000;stroke:#000;stroke-width:0.3px;font-size:18.6px">500</text>
</svg></body></html>
